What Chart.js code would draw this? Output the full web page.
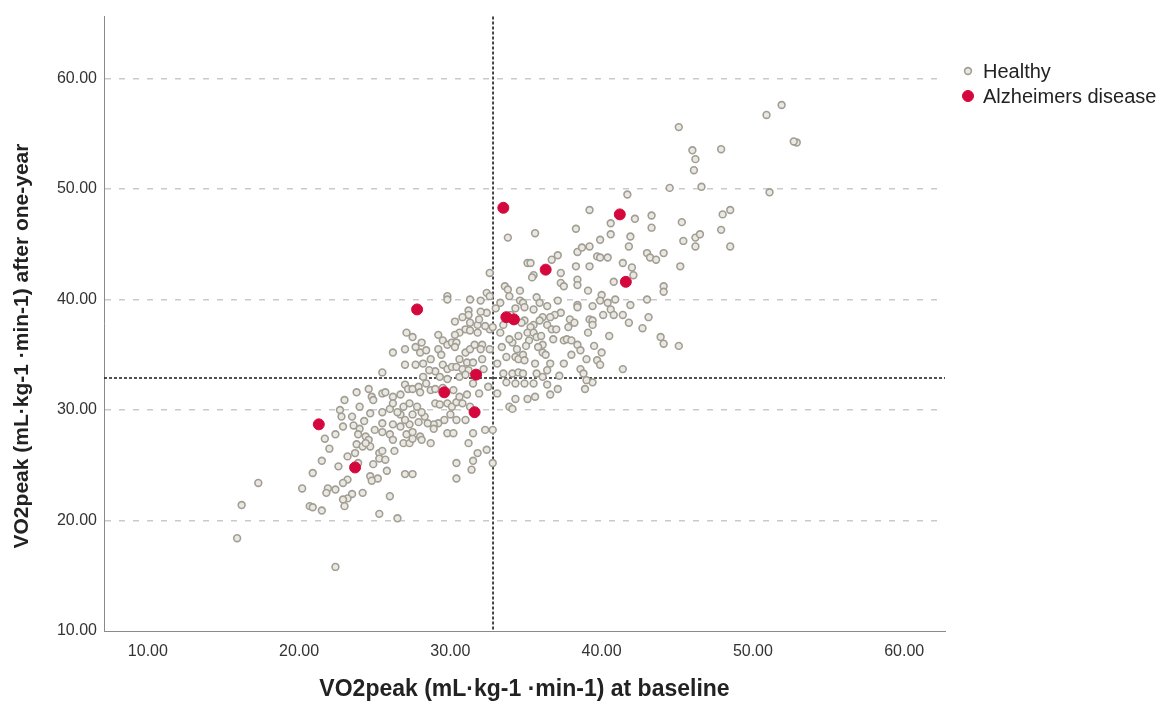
<!DOCTYPE html>
<html>
<head>
<meta charset="utf-8">
<script src="https://cdn.jsdelivr.net/npm/chart.js@4.4.1/dist/chart.umd.min.js"></script>
<style>
html, body { margin: 0; padding: 0; background: #fff; }
#wrap { position: relative; width: 1162px; height: 709px; }
</style>
</head>
<body>
<div id="wrap"><canvas id="chart" width="1162" height="709"></canvas></div>
<script>
var seriesNames = ['Healthy', 'Alzheimers disease'];
var xTitle = 'VO2peak (mL\u00b7kg-1 \u00b7min-1) at baseline';
var yTitle = 'VO2peak (mL\u00b7kg-1 \u00b7min-1) after one-year';
var xTicks = [10, 20, 30, 40, 50, 60];
var yTicks = [10, 20, 30, 40, 50, 60];
// sample means (dotted reference lines)
var meanX = 32.82, meanY = 32.9;

// [baseline, after one year]
var healthy = [
  [15.9,18.4],[16.2,21.4],[17.3,23.4],
  [24.6,31.9],[24.8,31.2],[24.9,30.9],[25.5,31.5],[22.7,30.0],[24.0,30.3],[24.7,29.7],[23.5,29.4],[22.8,29.4],[22.9,28.5],
  [22.4,27.8],[21.7,27.4],[22.0,26.5],[24.0,28.3],[23.9,27.8],[24.4,27.6],[24.6,27.3],[23.8,26.9],[24.2,26.7],[24.7,26.7],
  [24.4,27.0],[25.3,26.1],[25.3,25.6],[25.7,25.5],[23.7,26.1],[23.2,25.8],[21.5,25.4],[22.6,24.9],[20.9,24.3],[24.7,24.0],
  [25.2,23.8],[24.8,23.6],[23.2,23.7],[22.9,23.4],[21.9,22.9],[22.4,22.8],[21.8,22.5],[20.2,22.9],[24.2,22.5],[23.5,22.4],
  [23.2,22.0],[22.9,21.9],[23.0,21.3],[20.7,21.3],[20.9,21.2],[21.5,20.9],[25.3,20.6],[22.4,15.8],
  [25.7,31.6],[26.2,31.2],[26.7,31.4],[27.0,32.3],[27.2,31.9],[27.5,31.9],[27.9,32.1],[28.0,31.6],[28.7,31.8],[29.0,31.9],
  [29.0,30.6],[29.3,30.5],[29.8,30.6],[30.1,30.3],[30.4,30.7],[30.6,31.2],[30.8,30.6],[31.1,31.4],[31.3,30.3],[31.0,29.1],
  [30.4,29.1],[30.0,29.6],[29.6,29.1],[29.2,28.8],[28.9,28.7],[28.3,29.4],[28.5,28.8],[27.9,28.9],[27.3,28.7],[27.0,29.1],
  [26.7,29.6],[26.5,29.8],[26.0,30.1],[25.5,29.8],[26.2,30.6],[26.9,30.3],[27.3,30.6],[27.8,30.3],[28.1,29.8],[27.5,29.6],
  [26.7,28.5],[26.2,28.7],[25.5,28.8],[25.5,28.0],[26.0,27.8],[26.2,27.3],[26.9,27.0],[27.3,27.0],[27.5,27.4],[27.1,27.8],
  [27.5,28.0],[28.0,27.6],[28.1,27.3],[28.7,27.0],[28.9,28.3],[29.8,27.9],[30.2,27.9],[31.2,27.0],[31.5,27.9],[32.3,28.2],
  [32.8,28.2],[32.4,26.4],[31.8,26.1],[31.5,25.4],[31.4,24.6],[30.4,25.2],[30.4,23.8],[32.8,25.2],[25.5,26.3],[25.8,24.5],
  [27.0,24.2],[27.5,24.2],[26.3,26.3],[26.0,22.2],[26.5,20.2],
  [29.8,40.3],[29.8,40.0],[31.3,40.0],[32.0,39.9],[32.4,40.6],[32.6,40.3],[32.6,42.4],[32.4,38.8],[31.2,39.0],[31.2,38.6],
  [31.8,37.7],[31.0,37.3],[30.6,37.0],[30.3,36.8],[31.3,37.2],[31.8,37.0],[32.6,37.3],[32.8,37.5],[27.1,37.0],[26.2,35.2],
  [27.0,35.5],[27.7,35.7],[28.1,36.1],[28.0,35.2],[27.0,34.1],[27.7,34.1],[29.2,36.8],[29.5,36.3],[29.8,35.9],[30.1,36.1],
  [30.4,36.1],[30.3,35.7],[29.2,35.5],[29.4,35.0],[30.6,34.6],[31.0,35.2],[31.3,35.5],[31.6,35.9],[32.1,35.9],[32.0,35.5],
  [32.6,35.5],[31.1,34.3],[31.5,34.3],[32.1,34.6],[29.5,34.1],[29.8,33.7],[30.1,33.9],[30.4,33.9],[30.8,33.7],[31.2,33.6],
  [32.2,33.7],[33.1,34.2],[25.5,33.4],[28.2,33.0],[29.3,33.0],[29.8,32.8],[30.6,33.0],[31.0,33.2],
  [35.1,43.3],[35.3,43.3],[35.5,42.2],[35.4,42.0],[36.7,43.6],[37.1,44.0],[37.3,42.4],[38.4,44.3],[38.7,44.7],[39.2,44.8],
  [39.7,43.9],[39.9,43.8],[40.4,43.8],[38.3,43.0],[39.2,43.0],[38.4,41.8],[38.4,41.3],[37.3,41.5],[37.5,41.2],[33.6,41.2],
  [33.8,40.9],[33.9,40.3],[34.6,40.8],[40.8,41.6],[39.1,40.8],[40.0,40.4],[39.9,39.9],[39.4,39.4],[40.4,39.7],[40.9,40.0],
  [40.6,39.1],[40.8,38.6],[40.1,38.6],[41.4,38.6],[38.4,39.5],[38.4,39.3],[37.9,38.2],[38.2,37.9],[39.2,38.2],[39.4,38.1],
  [39.4,37.7],[39.1,37.0],[34.6,39.9],[34.8,39.7],[34.9,39.3],[35.5,39.1],[35.7,40.2],[35.9,39.7],[36.4,39.4],[37.1,39.9],
  [37.3,38.8],[36.9,38.6],[36.6,38.4],[36.1,38.4],[35.9,38.1],[35.5,37.7],[35.3,37.5],[35.1,37.0],[34.9,38.1],[34.7,37.9],
  [35.5,37.0],[35.7,36.6],[36.4,37.7],[36.7,37.3],[36.8,36.4],[37.5,36.3],[37.7,36.4],[38.0,36.3],[38.4,35.9],[38.6,35.4],
  [36.1,35.9],[35.8,35.7],[36.1,35.2],[36.3,35.0],[34.1,36.1],[34.4,35.5],[34.3,34.8],[34.5,34.6],[34.8,35.0],[34.9,34.5],
  [35.6,34.2],[36.6,34.2],[39.0,34.6],[39.7,34.5],[39.9,34.1],[38.6,33.7],[38.8,33.3],[33.5,33.3],[34.1,33.3],[34.5,33.4],
  [34.8,33.3],[35.7,33.3],[36.1,33.0],[33.7,32.5],[34.3,32.4],[34.9,32.4],[35.5,32.4],[36.4,32.3],[36.6,31.4],[37.1,31.9],
  [38.9,31.9],[39.4,32.5],[39.0,32.7],[41.4,33.7],[34.3,31.0],[35.1,31.0],[35.6,31.2],
  [41.7,49.5],[42.2,47.3],[43.3,47.6],[43.3,46.5],[41.9,45.7],[41.8,44.8],[43.0,44.2],[43.2,43.8],[43.6,43.6],[44.1,44.2],
  [41.4,43.3],[42.0,42.9],[42.1,42.2],[45.3,47.0],[45.4,45.3],[46.2,45.6],[46.5,45.9],[46.2,44.8],[45.2,43.0],[44.1,41.2],
  [44.1,40.7],[41.9,39.5],[43.0,40.0],[43.1,38.4],[42.7,37.4],[43.9,36.6],[44.1,36.0],[45.1,35.8],[41.8,37.9],[44.5,50.1],
  [46.6,50.2],[48.0,47.7],[48.5,48.1],[47.9,46.3],[48.5,44.8],[51.1,49.7],[45.1,55.6],[46.0,53.5],[46.2,52.7],[46.1,51.7],
  [47.9,53.6],[50.9,56.7],[51.9,57.6],[52.9,54.2],[52.7,54.3],[33.8,45.6],[35.6,46.0],[39.2,48.1],[38.3,46.4],[40.6,46.9],
  [40.6,45.9],[39.9,45.4],
  [32.5,32.1],[33.1,31.5],[33.9,30.3],[34.1,30.1],[33.3,39.7],[33.3,37.0],[33.5,37.7],[33.4,35.7],[33.7,34.8],
  [30.3,38.0],[30.8,38.4],[31.3,37.9],[31.9,38.2],[32.3,37.6],[33.0,39.2],[32.0,38.9],
  [27.5,36.6],[28.4,35.4],[28.7,34.6],[28.2,34.2],[29.0,33.5],[28.6,33.6],
  [28.4,32.4],[29.5,32.0],[30.2,31.8],[31.5,32.4],[31.9,31.5],
  [23.0,30.9],[23.8,31.6],[24.3,29.0],[23.6,28.6],[25.0,28.2],[24.9,25.1],[23.9,25.2],
  [34.0,38.6],[34.3,39.2],[35.2,36.3],[34.5,36.7],[33.9,36.4],[35.0,35.8],[36.0,36.7],[37.0,37.3],[37.8,37.5],[36.4,33.6],
  [38.0,35.0],[39.5,35.8],[40.5,36.7],[40.0,35.2],[37.5,34.2],[37.2,33.1]
];

var alzheimers = [
  [21.3,28.7],[23.7,24.8],[27.8,39.1],[29.6,31.6],[31.6,29.8],[31.7,33.2],
  [33.5,48.3],[33.7,38.4],[34.2,38.2],[36.3,42.7],[41.2,47.7],[41.6,41.6]
];

var fontFamily = '"Liberation Sans", Arial, sans-serif';

function toPoints(arr) {
  return arr.map(function (p) { return { x: p[0], y: p[1] }; });
}

var refLines = {
  id: 'refLines',
  beforeDatasetsDraw: function (chart) {
    var ctx = chart.ctx, a = chart.chartArea;
    var px = chart.scales.x.getPixelForValue(meanX);
    var py = chart.scales.y.getPixelForValue(meanY);
    ctx.save();
    ctx.strokeStyle = '#1a1a1a';
    ctx.lineWidth = 1.6;
    ctx.setLineDash([3, 2]);
    ctx.beginPath();
    ctx.moveTo(px, a.top);
    ctx.lineTo(px, a.bottom);
    ctx.moveTo(a.left, py);
    ctx.lineTo(a.right, py);
    ctx.stroke();
    ctx.restore();
  }
};

// legend at the upper right + y title (sits a bit below the axis middle in the original)
var sideLegend = {
  id: 'sideLegend',
  afterDraw: function (chart) {
    var ctx = chart.ctx;
    var x0 = chart.chartArea.right + 23;
    ctx.save();
    ctx.font = '20px ' + fontFamily;
    ctx.textBaseline = 'middle';
    chart.data.datasets.forEach(function (ds, i) {
      var y0 = 71 + i * 25;
      ctx.beginPath();
      ctx.arc(x0, y0, ds.pointRadius, 0, Math.PI * 2);
      ctx.fillStyle = ds.pointBackgroundColor;
      ctx.fill();
      ctx.lineWidth = ds.pointBorderWidth;
      ctx.strokeStyle = ds.pointBorderColor;
      ctx.stroke();
      ctx.fillStyle = '#222';
      ctx.fillText(ds.label, x0 + 15, y0 + 1);
    });

    ctx.translate(22, 346);
    ctx.rotate(-Math.PI / 2);
    ctx.textAlign = 'center';
    ctx.font = 'bold 21px ' + fontFamily;
    ctx.fillText(yTitle, 0, 0);
    ctx.restore();
  }
};

var cfg = {
  type: 'scatter',
  data: {
    datasets: [
      {
        label: seriesNames[0],
        data: toPoints(healthy),
        pointRadius: 3.4,
        pointBackgroundColor: '#ebe8e1',
        pointBorderColor: '#a19e95',
        pointBorderWidth: 1.6,
        order: 2
      },
      {
        label: seriesNames[1],
        data: toPoints(alzheimers),
        pointRadius: 5.5,
        pointBackgroundColor: '#d4083c',
        pointBorderColor: '#d4083c',
        pointBorderWidth: 1,
        order: 1
      }
    ]
  },
  options: {
    responsive: false,
    animation: false,
    devicePixelRatio: 1,
    layout: { padding: { top: 12, right: 217, left: 0, bottom: 0 } },
    plugins: {
      legend: { display: false },
      tooltip: { enabled: false }
    },
    scales: {
      x: {
        type: 'linear',
        min: 7.1,
        max: 62.7,
        afterBuildTicks: function (s) { s.ticks = xTicks.map(function (v) { return { value: v }; }); },
        afterFit: function (s) { s.height = 78; },
        grid: { display: false, drawTicks: false },
        border: { display: true, color: '#8a8a8a', width: 1 },
        ticks: {
          padding: 11,
          color: '#333',
          font: { family: fontFamily, size: 16 },
          callback: function (v) { return v.toFixed(2); }
        },
        title: {
          display: true,
          text: xTitle,
          color: '#222',
          font: { family: fontFamily, size: 23, weight: 'bold' },
          padding: { top: 0, bottom: 6 }
        }
      },
      y: {
        type: 'linear',
        min: 10,
        max: 65.6,
        afterBuildTicks: function (s) { s.ticks = yTicks.map(function (v) { return { value: v }; }); },
        afterFit: function (s) { s.width = 104; },
        grid: {
          drawTicks: false,
          lineWidth: 1.5,
          color: function (c) { return c.tick && c.tick.value === 10 ? 'rgba(0,0,0,0)' : '#cacaca'; }
        },
        border: { display: true, color: '#8a8a8a', width: 1, dash: [6, 8] },
        ticks: {
          padding: 7,
          color: '#333',
          font: { family: fontFamily, size: 16 },
          callback: function (v) { return v.toFixed(2); }
        },
        title: { display: false }
      }
    }
  },
  plugins: [refLines, sideLegend]
};

var chart = new Chart(document.getElementById('chart'), cfg);
</script>
</body>
</html>
